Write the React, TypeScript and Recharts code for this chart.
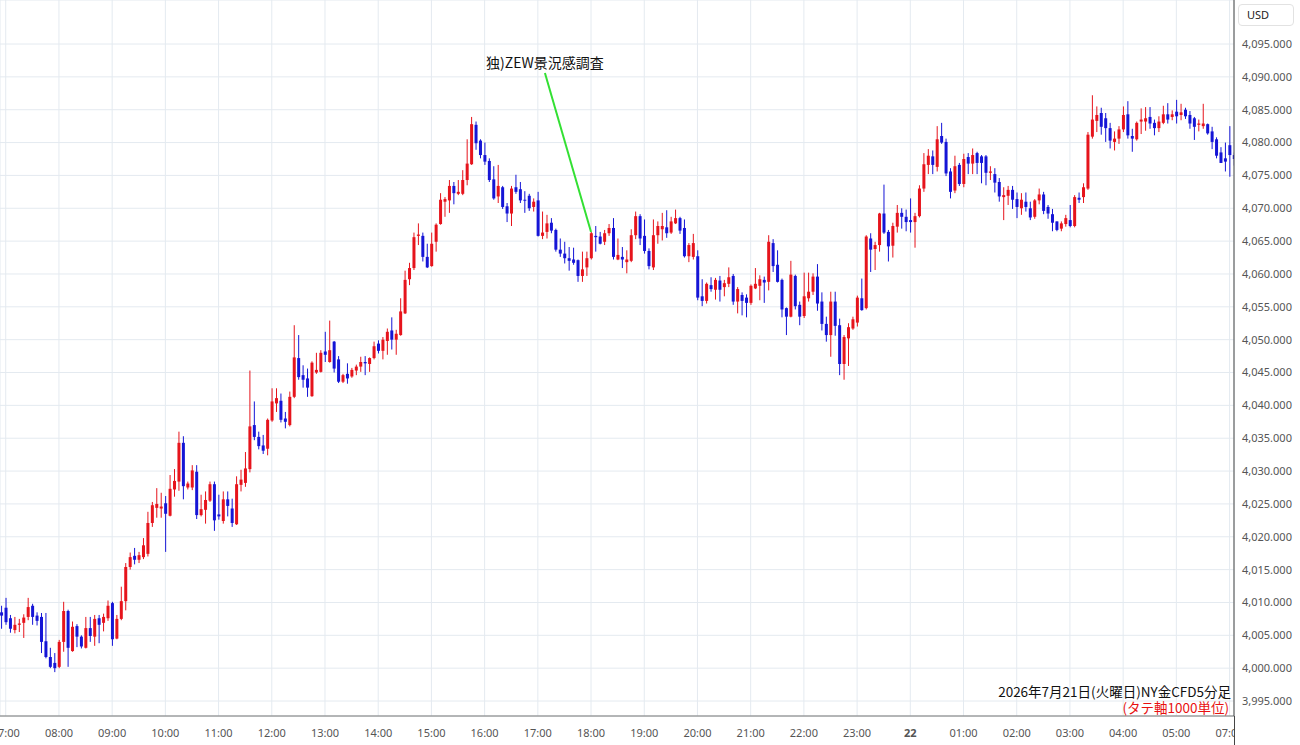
import { Bar, CartesianGrid, ComposedChart, ReferenceDot, ReferenceLine, XAxis, YAxis } from "recharts";

// 5-minute bars, 2026-07-21 06:55 .. 2026-07-22 07:05 (06:00-07:00 break skipped)
const opens = [
  4008.5, 4009.2, 4007.6, 4005.8, 4006.6, 4006.9, 4007.8, 4009.5, 4008.0, 4007.8,
  4004.1, 4001.7, 4000.8, 4000.2, 4004.0, 4008.7, 4002.6, 4006.4, 4004.8, 4003.1,
  4006.1, 4004.8, 4007.6, 4006.9, 4007.6, 4009.9, 4004.5, 4007.5, 4010.2, 4015.4,
  4017.1, 4016.5, 4016.9, 4017.4, 4022.1, 4024.4, 4024.3, 4025.1, 4023.2, 4027.2,
  4028.4, 4034.3, 4027.5, 4027.5, 4029.9, 4023.3, 4024.1, 4025.5, 4028.0, 4023.4,
  4022.4, 4025.7, 4024.3, 4021.9, 4027.9, 4028.2, 4030.3, 4037.0, 4035.2, 4033.9,
  4033.4, 4037.7, 4040.3, 4040.7, 4038.0, 4037.0, 4041.3, 4047.2, 4044.6, 4044.1,
  4041.4, 4045.0, 4045.1, 4048.2, 4046.6, 4049.7, 4047.0, 4043.6, 4044.8, 4044.4,
  4045.3, 4045.9, 4046.6, 4046.3, 4047.2, 4049.4, 4048.3, 4049.8, 4051.4, 4050.0,
  4050.7, 4054.0, 4059.2, 4060.9, 4065.8, 4065.8, 4062.6, 4061.2, 4064.9, 4067.6,
  4071.0, 4071.2, 4073.4, 4072.2, 4072.2, 4074.3, 4076.7, 4082.7, 4080.3, 4078.1,
  4077.2, 4074.4, 4071.8, 4073.2, 4070.3, 4069.2, 4073.2, 4072.9, 4071.3, 4071.9,
  4070.2, 4071.2, 4065.8, 4066.4, 4067.8, 4066.7, 4063.7, 4063.1, 4062.4, 4062.2,
  4062.1, 4059.7, 4061.0, 4062.4, 4065.8, 4065.7, 4064.9, 4066.2, 4067.0, 4062.2,
  4062.6, 4061.8, 4062.0, 4065.9, 4068.8, 4065.8, 4063.5, 4061.0, 4065.9, 4066.8,
  4067.1, 4066.3, 4067.7, 4068.5, 4067.0, 4062.7, 4062.6, 4062.7, 4056.6, 4055.9,
  4058.3, 4057.6, 4059.0, 4058.0, 4058.5, 4059.7, 4055.8, 4056.8, 4056.4, 4055.6,
  4057.8, 4058.2, 4059.1, 4058.8, 4064.7, 4061.4, 4059.1, 4054.8, 4053.5, 4059.7,
  4055.3, 4053.6, 4056.3, 4057.3, 4059.6, 4055.8, 4052.4, 4050.7, 4055.8, 4052.2,
  4046.3, 4050.2, 4051.7, 4052.6, 4056.3, 4054.8, 4065.4, 4063.8, 4064.4, 4069.2,
  4066.4, 4064.3, 4067.2, 4069.3, 4068.7, 4068.2, 4067.9, 4068.8, 4073.0, 4076.6,
  4077.9, 4076.3, 4081.0, 4080.1, 4075.6, 4072.7, 4076.6, 4073.7, 4077.8, 4076.8,
  4078.4, 4077.9, 4077.9, 4075.4, 4075.2, 4074.0, 4071.7, 4071.9, 4072.8, 4071.4,
  4070.0, 4071.0, 4070.0, 4068.7, 4071.2, 4072.1, 4070.2, 4069.1, 4068.0, 4066.9,
  4067.6, 4068.2, 4067.3, 4071.6, 4071.7, 4073.0, 4080.9, 4083.3, 4084.5, 4083.7,
  4082.2, 4080.1, 4080.6, 4082.0, 4084.3, 4081.0, 4080.5, 4083.2, 4083.2, 4083.9,
  4083.0, 4082.2, 4083.0, 4084.3, 4083.9, 4084.7, 4084.2, 4085.0, 4084.2, 4083.7,
  4082.7, 4082.5, 4082.8, 4081.7, 4080.5, 4078.5, 4077.6, 4079.6, 4078.1,
];

const highs = [
  4009.5, 4010.7, 4008.1, 4007.8, 4007.5, 4008.2, 4010.7, 4009.8, 4008.5, 4008.4,
  4008.4, 4003.1, 4002.3, 4004.3, 4010.1, 4008.9, 4007.1, 4006.7, 4005.0, 4007.8,
  4007.8, 4008.1, 4008.1, 4008.3, 4010.3, 4010.1, 4008.1, 4012.4, 4016.0, 4017.6,
  4018.3, 4017.7, 4019.8, 4023.8, 4025.3, 4027.4, 4026.7, 4026.2, 4029.4, 4030.3,
  4036.0, 4035.3, 4028.4, 4030.9, 4030.9, 4026.4, 4026.9, 4028.4, 4028.4, 4026.4,
  4026.9, 4026.9, 4025.8, 4029.2, 4030.2, 4032.9, 4045.3, 4040.6, 4036.0, 4035.5,
  4038.0, 4042.6, 4042.6, 4041.8, 4039.0, 4042.1, 4052.2, 4050.7, 4046.1, 4045.6,
  4046.7, 4048.0, 4048.4, 4051.2, 4052.9, 4049.8, 4047.5, 4044.8, 4046.4, 4045.7,
  4046.2, 4047.4, 4047.5, 4047.3, 4049.7, 4049.9, 4050.4, 4051.7, 4053.4, 4051.5,
  4056.3, 4060.5, 4061.7, 4066.3, 4067.7, 4066.3, 4064.6, 4066.3, 4067.7, 4072.3,
  4071.7, 4074.3, 4074.0, 4074.3, 4075.8, 4080.5, 4083.9, 4083.2, 4080.5, 4080.0,
  4077.6, 4076.4, 4076.6, 4073.4, 4070.8, 4073.4, 4075.1, 4074.0, 4072.6, 4072.2,
  4071.5, 4072.5, 4069.5, 4069.0, 4068.5, 4066.9, 4065.4, 4064.9, 4064.1, 4064.0,
  4062.2, 4063.4, 4063.4, 4066.4, 4067.3, 4066.4, 4066.7, 4067.6, 4068.5, 4065.4,
  4064.1, 4063.6, 4066.8, 4069.5, 4069.1, 4068.3, 4063.9, 4068.3, 4068.0, 4069.3,
  4069.7, 4068.7, 4069.8, 4068.7, 4068.3, 4064.7, 4066.1, 4063.6, 4059.2, 4058.7,
  4059.5, 4059.4, 4059.7, 4059.1, 4061.0, 4060.0, 4058.0, 4057.2, 4056.9, 4058.4,
  4060.9, 4059.8, 4059.6, 4065.9, 4065.3, 4063.6, 4059.3, 4054.9, 4062.0, 4059.9,
  4055.8, 4060.2, 4060.2, 4060.1, 4061.5, 4057.2, 4053.5, 4057.3, 4057.3, 4053.2,
  4050.7, 4052.5, 4053.5, 4056.7, 4059.3, 4065.9, 4066.2, 4064.9, 4069.3, 4073.6,
  4066.7, 4067.8, 4070.5, 4070.0, 4069.8, 4071.5, 4069.3, 4073.5, 4078.4, 4079.0,
  4078.8, 4082.5, 4083.0, 4080.6, 4076.1, 4078.0, 4076.9, 4078.3, 4078.4, 4079.1,
  4078.6, 4078.1, 4078.1, 4076.4, 4076.1, 4074.6, 4073.2, 4073.4, 4073.4, 4072.4,
  4072.3, 4072.4, 4071.0, 4071.4, 4073.0, 4072.5, 4070.5, 4069.9, 4068.0, 4068.0,
  4069.0, 4070.5, 4072.0, 4072.4, 4073.8, 4081.6, 4087.2, 4085.5, 4085.3, 4084.5,
  4083.0, 4081.7, 4082.5, 4085.5, 4086.3, 4082.1, 4083.2, 4085.2, 4085.4, 4085.4,
  4083.5, 4084.0, 4085.6, 4086.0, 4084.9, 4086.5, 4085.9, 4085.3, 4084.8, 4083.9,
  4083.5, 4085.9, 4082.9, 4082.4, 4080.8, 4079.3, 4080.0, 4082.5, 4078.5,
];

const lows = [
  4006.0, 4006.6, 4005.4, 4005.3, 4005.5, 4004.6, 4007.3, 4006.6, 4006.5, 4002.3,
  4001.5, 4000.0, 3999.4, 4000.0, 4002.5, 4000.2, 4002.5, 4003.2, 4003.0, 4003.0,
  4004.0, 4003.4, 4003.8, 4005.6, 4007.2, 4003.4, 4004.4, 4007.3, 4008.8, 4015.0,
  4015.8, 4016.0, 4016.6, 4017.0, 4021.5, 4022.9, 4022.9, 4017.7, 4023.1, 4026.1,
  4027.0, 4025.7, 4027.2, 4027.1, 4022.7, 4023.1, 4022.0, 4025.3, 4020.9, 4022.6,
  4022.0, 4023.1, 4021.5, 4021.8, 4026.9, 4027.6, 4029.8, 4034.7, 4033.3, 4032.6,
  4032.4, 4037.5, 4039.0, 4037.4, 4036.5, 4036.8, 4041.1, 4043.9, 4042.7, 4041.3,
  4041.3, 4044.8, 4045.0, 4046.6, 4046.5, 4045.0, 4043.4, 4043.4, 4043.3, 4044.2,
  4044.6, 4045.1, 4044.6, 4045.1, 4047.0, 4047.9, 4047.0, 4047.7, 4048.5, 4047.7,
  4050.6, 4053.9, 4058.3, 4060.6, 4064.4, 4061.9, 4060.9, 4061.1, 4063.4, 4067.5,
  4068.7, 4069.3, 4070.6, 4072.0, 4072.0, 4073.5, 4076.6, 4078.9, 4077.6, 4076.6,
  4074.0, 4071.3, 4070.8, 4069.9, 4067.9, 4067.3, 4072.2, 4070.8, 4069.3, 4069.6,
  4069.5, 4065.7, 4065.3, 4065.4, 4066.2, 4063.4, 4062.6, 4061.6, 4060.5, 4061.4,
  4058.8, 4058.8, 4059.7, 4062.2, 4063.4, 4064.5, 4064.4, 4065.8, 4062.2, 4062.1,
  4060.9, 4060.1, 4061.8, 4065.3, 4064.4, 4063.1, 4060.7, 4060.6, 4064.6, 4065.1,
  4065.5, 4066.1, 4067.6, 4066.1, 4062.5, 4061.8, 4062.2, 4056.0, 4055.1, 4055.5,
  4057.3, 4056.1, 4055.8, 4056.6, 4058.0, 4055.3, 4054.0, 4053.7, 4053.4, 4055.3,
  4057.7, 4056.0, 4055.6, 4057.5, 4060.3, 4058.7, 4053.4, 4050.7, 4053.4, 4054.6,
  4052.2, 4053.3, 4055.8, 4056.8, 4054.4, 4051.4, 4049.7, 4047.4, 4050.6, 4044.6,
  4043.9, 4046.0, 4051.5, 4052.0, 4054.4, 4054.6, 4060.3, 4060.6, 4063.4, 4066.1,
  4061.9, 4062.5, 4066.3, 4066.9, 4066.5, 4066.3, 4064.0, 4068.6, 4072.5, 4075.2,
  4075.2, 4075.6, 4079.8, 4074.9, 4071.5, 4072.3, 4073.4, 4073.2, 4075.2, 4075.2,
  4075.2, 4073.8, 4073.5, 4074.3, 4072.4, 4071.0, 4068.2, 4070.5, 4069.9, 4068.5,
  4069.0, 4069.5, 4068.2, 4068.4, 4070.6, 4069.1, 4068.4, 4066.5, 4066.5, 4066.5,
  4067.2, 4067.1, 4067.1, 4070.8, 4070.8, 4072.8, 4080.6, 4081.6, 4081.2, 4080.1,
  4079.1, 4078.8, 4079.8, 4081.6, 4080.6, 4078.6, 4080.3, 4081.3, 4081.8, 4082.1,
  4081.1, 4081.6, 4082.8, 4082.9, 4083.4, 4082.9, 4083.4, 4083.6, 4082.1, 4080.4,
  4081.7, 4082.1, 4081.2, 4079.0, 4077.6, 4076.9, 4075.6, 4074.8, 4076.5,
];

const closes = [
  4008.0, 4007.0, 4006.0, 4006.6, 4006.8, 4007.7, 4009.3, 4007.8, 4007.2, 4004.0,
  4001.7, 4000.2, 4000.0, 4004.0, 4008.7, 4003.1, 4006.3, 4004.8, 4003.3, 4006.1,
  4004.9, 4007.5, 4006.6, 4007.8, 4009.5, 4004.4, 4007.5, 4010.2, 4015.4, 4016.9,
  4016.5, 4017.2, 4018.7, 4022.1, 4024.8, 4025.0, 4024.6, 4023.5, 4027.3, 4028.5,
  4034.3, 4027.7, 4028.1, 4030.1, 4023.3, 4024.2, 4025.6, 4028.0, 4022.5, 4023.1,
  4025.7, 4024.7, 4022.1, 4028.0, 4028.7, 4030.4, 4036.8, 4035.2, 4033.8, 4033.1,
  4037.8, 4040.6, 4041.1, 4037.8, 4037.5, 4041.3, 4047.3, 4044.3, 4043.9, 4042.7,
  4046.5, 4045.4, 4048.0, 4047.7, 4048.4, 4045.6, 4043.6, 4044.6, 4044.1, 4045.4,
  4045.9, 4046.6, 4046.4, 4047.2, 4049.0, 4048.3, 4050.0, 4051.2, 4050.0, 4050.9,
  4054.3, 4059.1, 4060.9, 4065.6, 4066.0, 4062.6, 4061.0, 4064.6, 4067.5, 4071.3,
  4071.4, 4073.4, 4072.3, 4072.5, 4074.3, 4076.8, 4082.8, 4079.9, 4078.1, 4077.1,
  4074.3, 4071.5, 4073.4, 4070.2, 4069.2, 4073.0, 4072.5, 4071.2, 4071.2, 4070.0,
  4071.0, 4065.8, 4066.3, 4067.7, 4066.6, 4063.7, 4063.1, 4062.4, 4062.0, 4061.7,
  4059.7, 4060.7, 4062.4, 4066.2, 4065.6, 4064.6, 4066.2, 4067.0, 4062.6, 4062.9,
  4062.2, 4062.2, 4065.9, 4068.8, 4065.4, 4063.5, 4061.2, 4065.9, 4067.3, 4067.3,
  4066.2, 4068.0, 4068.5, 4066.6, 4062.7, 4064.4, 4064.7, 4056.4, 4055.9, 4058.5,
  4057.7, 4059.1, 4057.6, 4058.6, 4059.5, 4055.8, 4057.7, 4055.9, 4055.6, 4058.2,
  4058.5, 4059.2, 4058.7, 4064.9, 4061.2, 4058.8, 4054.6, 4053.5, 4059.9, 4055.1,
  4053.5, 4056.6, 4057.3, 4059.6, 4055.5, 4052.4, 4050.7, 4055.8, 4052.1, 4046.3,
  4050.4, 4051.9, 4053.1, 4056.4, 4054.5, 4065.7, 4063.7, 4064.4, 4069.2, 4066.3,
  4064.2, 4067.3, 4069.3, 4068.7, 4067.9, 4067.9, 4068.8, 4073.0, 4076.7, 4078.0,
  4076.6, 4080.5, 4080.0, 4075.3, 4072.5, 4076.4, 4073.7, 4077.5, 4076.8, 4078.1,
  4076.9, 4076.9, 4075.4, 4075.6, 4073.9, 4071.8, 4072.0, 4072.8, 4071.3, 4070.2,
  4071.3, 4070.2, 4068.6, 4071.2, 4072.1, 4069.6, 4069.2, 4067.8, 4066.7, 4067.7,
  4068.5, 4067.3, 4071.7, 4071.3, 4073.2, 4081.2, 4083.5, 4084.2, 4082.4, 4082.2,
  4080.3, 4080.6, 4082.0, 4084.2, 4081.1, 4080.6, 4083.0, 4083.5, 4083.7, 4082.9,
  4082.2, 4083.2, 4084.3, 4083.5, 4084.3, 4084.0, 4084.6, 4084.0, 4082.9, 4082.4,
  4082.9, 4082.9, 4081.4, 4080.1, 4078.0, 4076.9, 4077.1, 4078.1, 4077.5,
];

// bar index of each hour label
const hourIndex = [1, 13, 25, 37, 49, 61, 73, 85, 97, 109, 121, 133, 145, 157, 169, 181, 193, 205, 217, 229, 241, 253, 265, 277];
const hourLabels = [
  "07:00", "08:00", "09:00", "10:00", "11:00", "12:00", "13:00", "14:00", "15:00", "16:00", "17:00", "18:00",
  "19:00", "20:00", "21:00", "22:00", "23:00", "22", "01:00", "02:00", "03:00", "04:00", "05:00", "07:00",
];
const priceTicks = [
  3995, 4000, 4005, 4010, 4015, 4020, 4025, 4030, 4035, 4040, 4045, 4050, 4055, 4060, 4065, 4070, 4075, 4080, 4085, 4090, 4095,
];

const eventLabel = "独)ZEW景況感調査";
const eventBar = 133;
const eventLabelPos = { x: 122.6, y: 4092.2 };
const eventLineTop = { x: 122.6, y: 4090.6 };

const candles = opens.map((open, i) => ({ i, open, high: highs[i], low: lows[i], close: closes[i] }));

const UP = "#e6141c";
const DOWN = "#1515d6";
const AXIS_FONT = "'Noto Sans', 'DejaVu Sans', sans-serif";
const JP_FONT = "'Noto Sans CJK JP', 'Noto Sans', sans-serif";

function Candle(props: any) {
  const { x, y, width, height, payload } = props;
  if (x == null || y == null || !payload) return null;
  const top = Math.min(y, y + height);
  const h = Math.abs(height);
  const cx = x + width / 2;
  const range = payload.high - payload.low || 1;
  const py = (v: number) => top + ((payload.high - v) / range) * h;
  const color = payload.close >= payload.open ? UP : DOWN;
  const bodyTop = py(Math.max(payload.open, payload.close));
  const bodyH = Math.max(1, py(Math.min(payload.open, payload.close)) - bodyTop);
  return (
    <g>
      <line x1={cx} x2={cx} y1={top} y2={top + h} stroke={color} strokeWidth={1} />
      <rect x={cx - 1.5} y={bodyTop} width={3} height={bodyH} fill={color} />
    </g>
  );
}

function HourTick(props: any) {
  const { x, y, payload } = props;
  const label = hourLabels[hourIndex.indexOf(payload.value)] ?? "";
  return (
    <text x={x} y={y} dy={19} textAnchor="middle" fill="#555" fontSize={11} fontFamily={AXIS_FONT}
      fontWeight={label === "22" ? 700 : 400}>
      {label}
    </text>
  );
}

export default function App() {
  return (
    <div style={{ position: "fixed", left: 0, top: 0, width: 1300, height: 745, background: "#fff", overflow: "hidden" }}>
      <ComposedChart width={1300} height={745} data={candles} margin={{ top: 0, right: 0, left: 0, bottom: 0 }}>
        <CartesianGrid stroke="#e4eaf0" />
        <XAxis
          dataKey="i"
          type="number"
          domain={[-0.293, 278.0]}
          allowDataOverflow
          ticks={hourIndex}
          interval={0}
          height={29}
          tickLine={false}
          tickSize={0}
          axisLine={{ stroke: "#777" }}
          tick={<HourTick />}
        />
        <YAxis
          orientation="right"
          width={66}
          domain={[3992.72, 4101.7]}
          allowDataOverflow
          ticks={priceTicks}
          interval={0}
          tickLine={false}
          tickSize={0}
          tickMargin={8}
          axisLine={{ stroke: "#444" }}
          tick={{ fill: "#555", fontSize: 11, fontFamily: AXIS_FONT }}
          tickFormatter={(v: number) => v.toLocaleString("en-US", { minimumFractionDigits: 3, maximumFractionDigits: 3 })}
        />
        <Bar
          dataKey={(d: any) => [d.low, d.high]}
          barSize={3}
          shape={<Candle />}
          isAnimationActive={false}
        />
        <ReferenceLine
          segment={[eventLineTop, { x: eventBar, y: highs[eventBar] }]}
          stroke="#33e033"
          strokeWidth={2}
        />
        <ReferenceDot
          x={eventLabelPos.x}
          y={eventLabelPos.y}
          shape={(p: any) => (
            <text x={p.cx} y={p.cy} textAnchor="middle" dominantBaseline="central" fontSize={14} fill="#111" fontFamily={JP_FONT}>
              {eventLabel}
            </text>
          )}
        />
      </ComposedChart>

      <div style={{ position: "absolute", left: 1234, top: 716, width: 66, height: 29, background: "#fff", borderLeft: "1px solid #444" }} />
      <div style={{
        position: "absolute", left: 1238, top: 4, width: 56, height: 22, boxSizing: "border-box",
        border: "1px solid #e2e2e2", borderRadius: 4, background: "#fff",
        fontFamily: AXIS_FONT, fontSize: 11, color: "#222", lineHeight: "20px", paddingLeft: 8,
      }}>
        USD
      </div>
      <div style={{
        position: "absolute", right: 69, top: 684, fontFamily: JP_FONT, fontSize: 13.5, lineHeight: "15px",
        color: "#111", whiteSpace: "nowrap",
      }}>
        2026年7月21日(火曜日)NY金CFD5分足
      </div>
      <div style={{
        position: "absolute", right: 71, top: 700, fontFamily: JP_FONT, fontSize: 13.5, lineHeight: "15px",
        color: "#e81010", whiteSpace: "nowrap",
      }}>
        (タテ軸1000単位)
      </div>
    </div>
  );
}
